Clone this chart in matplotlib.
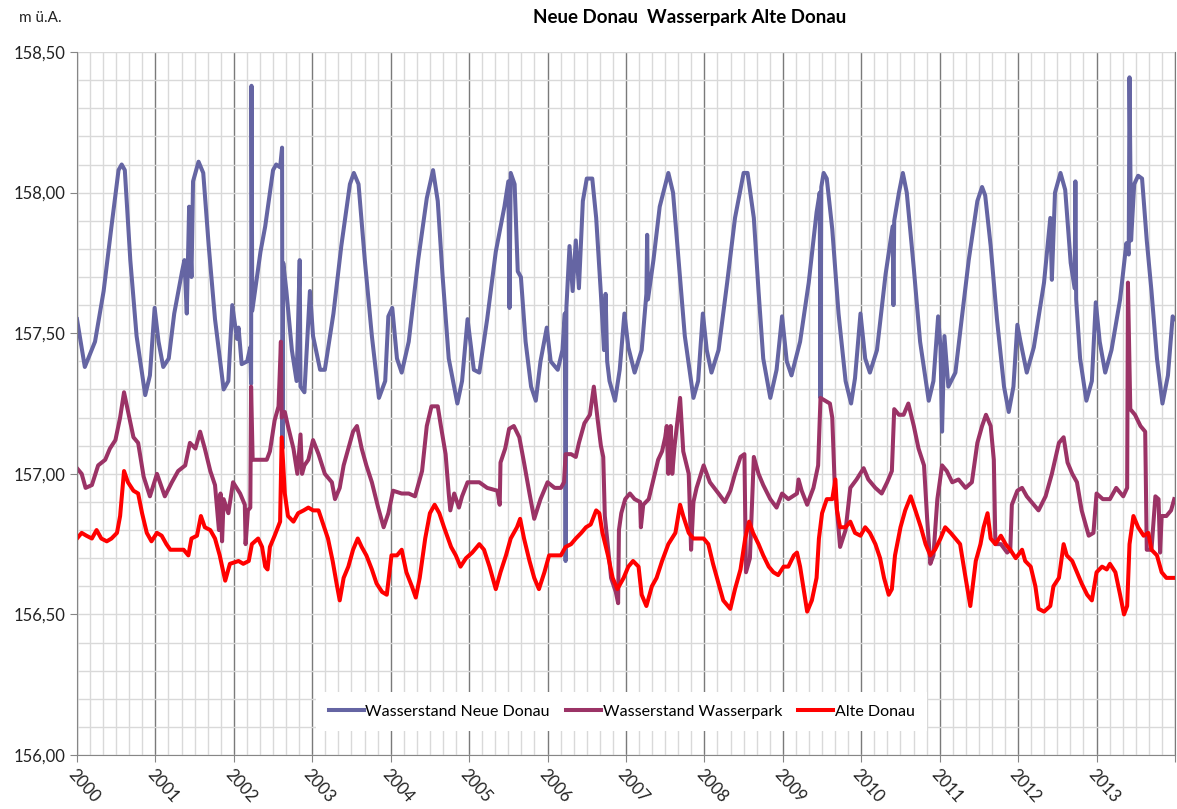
import matplotlib
matplotlib.use("Agg")
import matplotlib.pyplot as plt
from matplotlib.ticker import FuncFormatter, MultipleLocator

# Wasserstände in m ü.A., Zeit als Dezimaljahr
nd_t = [2000.00, 2000.10, 2000.23, 2000.34, 2000.44, 2000.53, 2000.57, 2000.61, 2000.68, 2000.76,
        2000.87, 2000.93, 2000.99, 2001.04, 2001.10, 2001.17, 2001.24, 2001.34, 2001.37, 2001.40,
        2001.43, 2001.46, 2001.48, 2001.55, 2001.61, 2001.68, 2001.76, 2001.87, 2001.93, 2001.98,
        2002.04, 2002.06, 2002.10, 2002.17, 2002.21, 2002.22, 2002.225, 2002.235, 2002.34, 2002.40,
        2002.50, 2002.54, 2002.59, 2002.615, 2002.62, 2002.63, 2002.67, 2002.74, 2002.80, 2002.84,
        2002.85, 2002.90, 2002.97, 2003.01, 2003.10, 2003.16, 2003.27, 2003.37, 2003.48, 2003.53,
        2003.59, 2003.67, 2003.76, 2003.85, 2003.93, 2003.97, 2004.02, 2004.08, 2004.14, 2004.23,
        2004.35, 2004.46, 2004.54, 2004.60, 2004.66, 2004.74, 2004.85, 2004.91, 2004.98, 2005.06,
        2005.13, 2005.23, 2005.34, 2005.45, 2005.50, 2005.515, 2005.53, 2005.58, 2005.62, 2005.66,
        2005.72, 2005.79, 2005.85, 2005.91, 2005.99, 2006.04, 2006.13, 2006.19, 2006.22, 2006.23,
        2006.24, 2006.28, 2006.32, 2006.36, 2006.40, 2006.45, 2006.50, 2006.57, 2006.62, 2006.68,
        2006.72, 2006.74, 2006.76, 2006.79, 2006.86, 2006.92, 2006.98, 2007.03, 2007.11, 2007.20,
        2007.26, 2007.27, 2007.28, 2007.35, 2007.43, 2007.54, 2007.60, 2007.67, 2007.75, 2007.86,
        2007.92, 2007.98, 2008.03, 2008.09, 2008.18, 2008.29, 2008.39, 2008.50, 2008.55, 2008.63,
        2008.69, 2008.75, 2008.84, 2008.92, 2008.99, 2009.05, 2009.11, 2009.22, 2009.33, 2009.43,
        2009.47, 2009.48, 2009.49, 2009.52, 2009.56, 2009.63, 2009.71, 2009.80, 2009.87, 2009.92,
        2009.99, 2010.05, 2010.11, 2010.20, 2010.31, 2010.40, 2010.41, 2010.42, 2010.48, 2010.53,
        2010.58, 2010.67, 2010.75, 2010.86, 2010.92, 2010.98, 2011.01, 2011.03, 2011.06, 2011.11,
        2011.20, 2011.28, 2011.37, 2011.48, 2011.54, 2011.58, 2011.65, 2011.73, 2011.82, 2011.88,
        2011.94, 2011.99, 2012.03, 2012.11, 2012.20, 2012.33, 2012.41, 2012.43, 2012.47, 2012.54,
        2012.60, 2012.67, 2012.72, 2012.73, 2012.74, 2012.79, 2012.87, 2012.94, 2012.99, 2013.04,
        2013.11, 2013.19, 2013.30, 2013.38, 2013.41, 2013.42, 2013.44, 2013.48, 2013.53, 2013.58,
        2013.64, 2013.70, 2013.77, 2013.84, 2013.91, 2013.97, 2013.99]
nd_v = [157.55, 157.38, 157.47, 157.65, 157.88, 158.08, 158.10, 158.08, 157.76, 157.49,
        157.28, 157.35, 157.59, 157.47, 157.38, 157.41, 157.57, 157.72, 157.76, 157.57,
        157.95, 157.70, 158.04, 158.11, 158.07, 157.81, 157.55, 157.30, 157.33, 157.60,
        157.48, 157.52, 157.39, 157.40, 157.45, 157.32, 158.38, 157.58, 157.79, 157.88,
        158.08, 158.10, 158.09, 158.16, 157.09, 157.75, 157.65, 157.44, 157.33, 157.76,
        157.31, 157.29, 157.65, 157.49, 157.37, 157.37, 157.57, 157.81, 158.03, 158.07,
        158.03, 157.76, 157.49, 157.27, 157.33, 157.56, 157.59, 157.41, 157.36, 157.47,
        157.76, 157.98, 158.08, 157.97, 157.71, 157.41, 157.25, 157.33, 157.55, 157.37,
        157.36, 157.55, 157.79, 157.95, 158.04, 157.59, 158.07, 158.03, 157.72, 157.70,
        157.47, 157.31, 157.26, 157.40, 157.52, 157.40, 157.37, 157.44, 157.57, 156.69,
        157.59, 157.81, 157.65, 157.83, 157.66, 157.97, 158.05, 158.05, 157.91, 157.64,
        157.44, 157.64, 157.40, 157.33, 157.26, 157.37, 157.57, 157.45, 157.36, 157.44,
        157.64, 157.85, 157.62, 157.76, 157.95, 158.07, 158.00, 157.76, 157.49, 157.27,
        157.33, 157.57, 157.44, 157.36, 157.44, 157.68, 157.91, 158.07, 158.07, 157.91,
        157.65, 157.41, 157.27, 157.37, 157.56, 157.40, 157.35, 157.47, 157.68, 157.93,
        158.00, 157.27, 158.02, 158.07, 158.05, 157.87, 157.57, 157.33, 157.25, 157.34,
        157.57, 157.41, 157.36, 157.44, 157.71, 157.88, 157.60, 157.90, 158.00, 158.07,
        158.00, 157.73, 157.47, 157.26, 157.33, 157.56, 157.45, 157.15, 157.49, 157.31,
        157.36, 157.55, 157.76, 157.97, 158.02, 157.99, 157.81, 157.55, 157.31, 157.22,
        157.31, 157.53, 157.47, 157.36, 157.45, 157.68, 157.91, 157.69, 158.00, 158.07,
        158.01, 157.75, 157.66, 158.04, 157.62, 157.41, 157.26, 157.33, 157.61, 157.47,
        157.36, 157.44, 157.62, 157.82, 157.78, 158.41, 157.83, 158.03, 158.06, 158.05,
        157.83, 157.65, 157.41, 157.25, 157.35, 157.56, 157.55]

wp_t = [2000.00, 2000.06, 2000.11, 2000.19, 2000.27, 2000.36, 2000.42, 2000.49, 2000.55, 2000.60,
        2000.66, 2000.72, 2000.78, 2000.85, 2000.93, 2001.02, 2001.12, 2001.21, 2001.29, 2001.38,
        2001.44, 2001.51, 2001.57, 2001.63, 2001.70, 2001.76, 2001.81, 2001.83, 2001.85, 2001.87,
        2001.93, 2001.99, 2002.08, 2002.14, 2002.15, 2002.18, 2002.21, 2002.22, 2002.24, 2002.34,
        2002.42, 2002.46, 2002.52, 2002.57, 2002.60, 2002.61, 2002.65, 2002.69, 2002.76, 2002.81,
        2002.85, 2002.87, 2002.90, 2002.95, 2003.01, 2003.08, 2003.16, 2003.25, 2003.29, 2003.35,
        2003.40, 2003.46, 2003.52, 2003.57, 2003.63, 2003.69, 2003.76, 2003.84, 2003.91, 2003.97,
        2004.03, 2004.14, 2004.23, 2004.31, 2004.40, 2004.46, 2004.52, 2004.60, 2004.64, 2004.70,
        2004.74, 2004.76, 2004.81, 2004.87, 2004.91, 2004.98, 2005.13, 2005.23, 2005.36, 2005.39,
        2005.40, 2005.46, 2005.51, 2005.57, 2005.64, 2005.70, 2005.77, 2005.83, 2005.91, 2006.00,
        2006.09, 2006.17, 2006.21, 2006.23, 2006.30, 2006.36, 2006.40, 2006.47, 2006.54, 2006.59,
        2006.64, 2006.68, 2006.71, 2006.73, 2006.81, 2006.87, 2006.90, 2006.91, 2006.94, 2006.99,
        2007.05, 2007.11, 2007.18, 2007.19, 2007.22, 2007.29, 2007.35, 2007.41, 2007.46, 2007.50,
        2007.52, 2007.54, 2007.57, 2007.59, 2007.62, 2007.69, 2007.73, 2007.80, 2007.83, 2007.86,
        2007.90, 2007.99, 2008.07, 2008.18, 2008.26, 2008.33, 2008.39, 2008.46, 2008.51, 2008.53,
        2008.58, 2008.63, 2008.69, 2008.75, 2008.84, 2008.92, 2008.99, 2009.07, 2009.18, 2009.20,
        2009.24, 2009.31, 2009.39, 2009.45, 2009.48, 2009.54, 2009.60, 2009.63, 2009.66, 2009.73,
        2009.80, 2009.86, 2009.94, 2010.03, 2010.09, 2010.18, 2010.26, 2010.33, 2010.39, 2010.42,
        2010.48, 2010.54, 2010.60, 2010.67, 2010.73, 2010.80, 2010.84, 2010.88, 2010.92, 2010.97,
        2011.03, 2011.09, 2011.16, 2011.24, 2011.33, 2011.41, 2011.48, 2011.54, 2011.59, 2011.65,
        2011.69, 2011.71, 2011.78, 2011.86, 2011.90, 2011.92, 2011.99, 2012.05, 2012.11, 2012.20,
        2012.26, 2012.35, 2012.43, 2012.52, 2012.58, 2012.63, 2012.69, 2012.75, 2012.81, 2012.90,
        2012.96, 2013.00, 2013.08, 2013.17, 2013.25, 2013.34, 2013.39, 2013.40, 2013.43, 2013.49,
        2013.56, 2013.62, 2013.64, 2013.70, 2013.75, 2013.79, 2013.81, 2013.83, 2013.89, 2013.95,
        2013.99]
wp_v = [157.02, 157.00, 156.95, 156.96, 157.03, 157.05, 157.09, 157.12, 157.20, 157.29,
        157.21, 157.13, 157.11, 156.99, 156.92, 157.00, 156.92, 156.97, 157.01, 157.03,
        157.11, 157.09, 157.15, 157.09, 157.01, 156.96, 156.80, 156.93, 156.76, 156.91,
        156.86, 156.97, 156.93, 156.89, 156.75, 156.87, 156.88, 157.31, 157.05, 157.05,
        157.05, 157.08, 157.19, 157.24, 157.47, 157.20, 157.22, 157.17, 157.09, 157.00,
        157.14, 157.00, 157.03, 157.05, 157.12, 157.07, 157.00, 156.97, 156.91, 156.95,
        157.03, 157.09, 157.15, 157.17, 157.09, 157.03, 156.97, 156.88, 156.81, 156.86,
        156.94, 156.93, 156.93, 156.92, 157.01, 157.17, 157.24, 157.24, 157.17, 157.07,
        156.93, 156.87, 156.93, 156.88, 156.92, 156.97, 156.97, 156.95, 156.94, 156.89,
        157.04, 157.09, 157.16, 157.17, 157.13, 157.04, 156.93, 156.84, 156.91, 156.97,
        156.95, 156.95, 156.97, 157.07, 157.07, 157.06, 157.11, 157.18, 157.21, 157.31,
        157.19, 157.10, 157.06, 156.85, 156.63, 156.58, 156.54, 156.80, 156.86, 156.91,
        156.93, 156.91, 156.90, 156.81, 156.89, 156.91, 156.98, 157.05, 157.08, 157.13,
        157.17, 157.00, 157.17, 157.00, 157.10, 157.27, 157.08, 157.00, 156.73, 156.90,
        156.95, 157.03, 156.97, 156.93, 156.90, 156.94, 157.00, 157.06, 157.07, 156.65,
        156.70, 157.06, 157.00, 156.96, 156.91, 156.88, 156.93, 156.91, 156.93, 156.98,
        156.94, 156.89, 156.95, 157.03, 157.27, 157.26, 157.25, 157.20, 156.97, 156.74,
        156.80, 156.95, 156.98, 157.02, 156.98, 156.95, 156.93, 156.97, 157.01, 157.23,
        157.21, 157.21, 157.25, 157.17, 157.09, 157.03, 156.84, 156.68, 156.71, 156.91,
        157.03, 157.01, 156.97, 156.98, 156.95, 156.97, 157.11, 157.17, 157.21, 157.17,
        157.05, 156.75, 156.75, 156.72, 156.73, 156.89, 156.94, 156.95, 156.92, 156.89,
        156.87, 156.92, 157.00, 157.11, 157.13, 157.04, 157.00, 156.97, 156.87, 156.78,
        156.79, 156.93, 156.91, 156.91, 156.95, 156.92, 156.95, 157.68, 157.23, 157.21,
        157.17, 157.15, 156.73, 156.73, 156.92, 156.91, 156.72, 156.85, 156.85, 156.87,
        156.91]

ad_t = [2000.00, 2000.06, 2000.12, 2000.19, 2000.25, 2000.31, 2000.38, 2000.44, 2000.51, 2000.55,
        2000.60, 2000.65, 2000.72, 2000.78, 2000.83, 2000.89, 2000.95, 2001.02, 2001.08, 2001.14,
        2001.19, 2001.27, 2001.36, 2001.42, 2001.46, 2001.53, 2001.58, 2001.63, 2001.70, 2001.76,
        2001.82, 2001.89, 2001.95, 2002.06, 2002.12, 2002.19, 2002.23, 2002.31, 2002.36, 2002.40,
        2002.43, 2002.46, 2002.52, 2002.59, 2002.61, 2002.65, 2002.69, 2002.76, 2002.82, 2002.89,
        2002.95, 2003.01, 2003.08, 2003.14, 2003.20, 2003.26, 2003.31, 2003.35, 2003.40, 2003.46,
        2003.52, 2003.58, 2003.63, 2003.69, 2003.76, 2003.82, 2003.89, 2003.95, 2004.01, 2004.08,
        2004.14, 2004.20, 2004.27, 2004.32, 2004.37, 2004.44, 2004.50, 2004.56, 2004.62, 2004.68,
        2004.77, 2004.83, 2004.89, 2004.96, 2005.04, 2005.13, 2005.19, 2005.26, 2005.32, 2005.34,
        2005.40, 2005.47, 2005.53, 2005.61, 2005.65, 2005.70, 2005.77, 2005.83, 2005.89, 2005.96,
        2006.02, 2006.11, 2006.17, 2006.23, 2006.30, 2006.36, 2006.43, 2006.49, 2006.55, 2006.62,
        2006.66, 2006.70, 2006.77, 2006.83, 2006.89, 2006.97, 2007.03, 2007.09, 2007.16, 2007.20,
        2007.26, 2007.33, 2007.39, 2007.46, 2007.54, 2007.63, 2007.69, 2007.73, 2007.80, 2007.86,
        2007.92, 2007.99, 2008.05, 2008.11, 2008.18, 2008.24, 2008.33, 2008.39, 2008.46, 2008.52,
        2008.57, 2008.62, 2008.69, 2008.75, 2008.82, 2008.88, 2008.94, 2009.01, 2009.07, 2009.14,
        2009.18, 2009.22, 2009.26, 2009.31, 2009.37, 2009.43, 2009.46, 2009.50, 2009.56, 2009.63,
        2009.67, 2009.69, 2009.73, 2009.80, 2009.86, 2009.92, 2009.99, 2010.05, 2010.11, 2010.18,
        2010.24, 2010.29, 2010.35, 2010.39, 2010.43, 2010.50, 2010.56, 2010.63, 2010.69, 2010.76,
        2010.82, 2010.88, 2010.94, 2011.01, 2011.07, 2011.14, 2011.20, 2011.26, 2011.33, 2011.39,
        2011.46, 2011.52, 2011.56, 2011.61, 2011.65, 2011.71, 2011.78, 2011.84, 2011.90, 2011.97,
        2012.05, 2012.09, 2012.16, 2012.22, 2012.26, 2012.33, 2012.41, 2012.45, 2012.52, 2012.58,
        2012.62, 2012.69, 2012.75, 2012.81, 2012.88, 2012.94, 2013.00, 2013.07, 2013.13, 2013.17,
        2013.24, 2013.30, 2013.35, 2013.39, 2013.42, 2013.47, 2013.53, 2013.60, 2013.66, 2013.70,
        2013.77, 2013.83, 2013.89, 2013.98]
ad_v = [156.77, 156.79, 156.78, 156.77, 156.80, 156.77, 156.76, 156.77, 156.79, 156.85,
        157.01, 156.97, 156.94, 156.93, 156.86, 156.79, 156.76, 156.79, 156.78, 156.75,
        156.73, 156.73, 156.73, 156.71, 156.77, 156.78, 156.85, 156.81, 156.80, 156.77,
        156.71, 156.62, 156.68, 156.69, 156.68, 156.69, 156.75, 156.77, 156.74, 156.67,
        156.66, 156.74, 156.78, 156.83, 157.13, 156.93, 156.85, 156.83, 156.86, 156.87,
        156.88, 156.87, 156.87, 156.82, 156.77, 156.69, 156.61, 156.55, 156.63, 156.67,
        156.73, 156.77, 156.74, 156.71, 156.66, 156.61, 156.58, 156.57, 156.71, 156.71,
        156.73, 156.65, 156.60, 156.56, 156.63, 156.77, 156.86, 156.89, 156.86, 156.81,
        156.74, 156.71, 156.67, 156.70, 156.72, 156.75, 156.73, 156.67, 156.61, 156.59,
        156.65, 156.71, 156.77, 156.81, 156.84, 156.77, 156.69, 156.63, 156.59, 156.65,
        156.71, 156.71, 156.71, 156.74, 156.75, 156.77, 156.79, 156.81, 156.82, 156.87,
        156.86, 156.79, 156.71, 156.63, 156.59, 156.63, 156.67, 156.69, 156.67, 156.57,
        156.53, 156.60, 156.63, 156.69, 156.75, 156.79, 156.89, 156.85, 156.79, 156.77,
        156.77, 156.77, 156.75, 156.68, 156.61, 156.55, 156.52, 156.59, 156.66, 156.77,
        156.83, 156.79, 156.75, 156.71, 156.67, 156.65, 156.64, 156.67, 156.67, 156.71,
        156.72, 156.67, 156.60, 156.51, 156.55, 156.63, 156.77, 156.86, 156.91, 156.91,
        156.98, 156.87, 156.81, 156.81, 156.83, 156.79, 156.78, 156.81, 156.79, 156.75,
        156.70, 156.63, 156.57, 156.59, 156.71, 156.81, 156.87, 156.92, 156.87, 156.81,
        156.75, 156.71, 156.73, 156.77, 156.81, 156.79, 156.77, 156.75, 156.63, 156.53,
        156.69, 156.75, 156.81, 156.86, 156.77, 156.75, 156.78, 156.75, 156.73, 156.70,
        156.73, 156.69, 156.67, 156.60, 156.52, 156.51, 156.53, 156.60, 156.63, 156.75,
        156.71, 156.69, 156.65, 156.61, 156.57, 156.55, 156.65, 156.67, 156.66, 156.68,
        156.65, 156.57, 156.50, 156.53, 156.75, 156.85, 156.81, 156.78, 156.79, 156.73,
        156.71, 156.65, 156.63, 156.63]

years = list(range(2000, 2014))
labels = ["Wasserstand Neue Donau", "Wasserstand Wasserpark", "Alte Donau"]
colors = ["#6565a3", "#9b3366", "#ff0000"]

plt.rcParams["font.family"] = ["Lato", "DejaVu Sans"]

fig = plt.figure(figsize=(11.77, 8.09), dpi=100)
ax = fig.add_axes([0.0654, 0.0667, 0.9329, 0.869])

for t, v, lab, c in zip([nd_t, wp_t, ad_t], [nd_v, wp_v, ad_v], labels, colors):
    ax.plot(t, v, color=c, lw=2.9, label=lab, solid_joinstyle="round")

ax.set_xlim(2000, 2014)
ax.set_ylim(156.0, 158.5)

# Gitter: 0,1 m waagrecht, 2 Monate senkrecht, Jahre dunkler
ax.yaxis.set_major_locator(MultipleLocator(0.5))
ax.yaxis.set_minor_locator(MultipleLocator(0.1))
ax.xaxis.set_minor_locator(MultipleLocator(1 / 6))
ax.grid(which="minor", color="#d9d9d9", lw=1.0)
ax.grid(which="major", axis="y", color="#d9d9d9", lw=1.0)
ax.grid(which="major", axis="x", color="#7a7a7a", lw=1.0)
ax.set_axisbelow(True)

ax.yaxis.set_major_formatter(FuncFormatter(lambda v, p: f"{v:.2f}".replace(".", ",")))
ax.set_xticks(years + [2014])
ax.set_xticklabels([str(y) for y in years] + [""], rotation=-48, ha="left",
                   rotation_mode="anchor")
ax.tick_params(axis="both", which="major", labelsize=12, length=5, color="#868686",
               labelcolor="#222222")
ax.tick_params(axis="x", which="major", pad=3)
ax.tick_params(which="minor", length=0)

ax.spines["top"].set_visible(False)
ax.spines["right"].set_color("#7a7a7a")
ax.spines["left"].set_color("#868686")
ax.spines["bottom"].set_color("#868686")

leg = ax.legend(loc="center", bbox_to_anchor=(0.496, 0.062), ncol=3, frameon=True,
                fancybox=False, edgecolor="none", facecolor="white", framealpha=1,
                fontsize=11.5, handlelength=2.2, handletextpad=0.1, columnspacing=1.0,
                borderpad=0.8)
for h in leg.get_lines():
    h.set_linewidth(2.9)

fig.text(0.586, 0.978, "Neue Donau  Wasserpark Alte Donau", ha="center", va="center",
         fontsize=13.5, fontweight="bold")
fig.text(0.016, 0.978, "m ü.A.", ha="left", va="center", fontsize=11, color="#222222")

fig.savefig("out.png", dpi=100)
